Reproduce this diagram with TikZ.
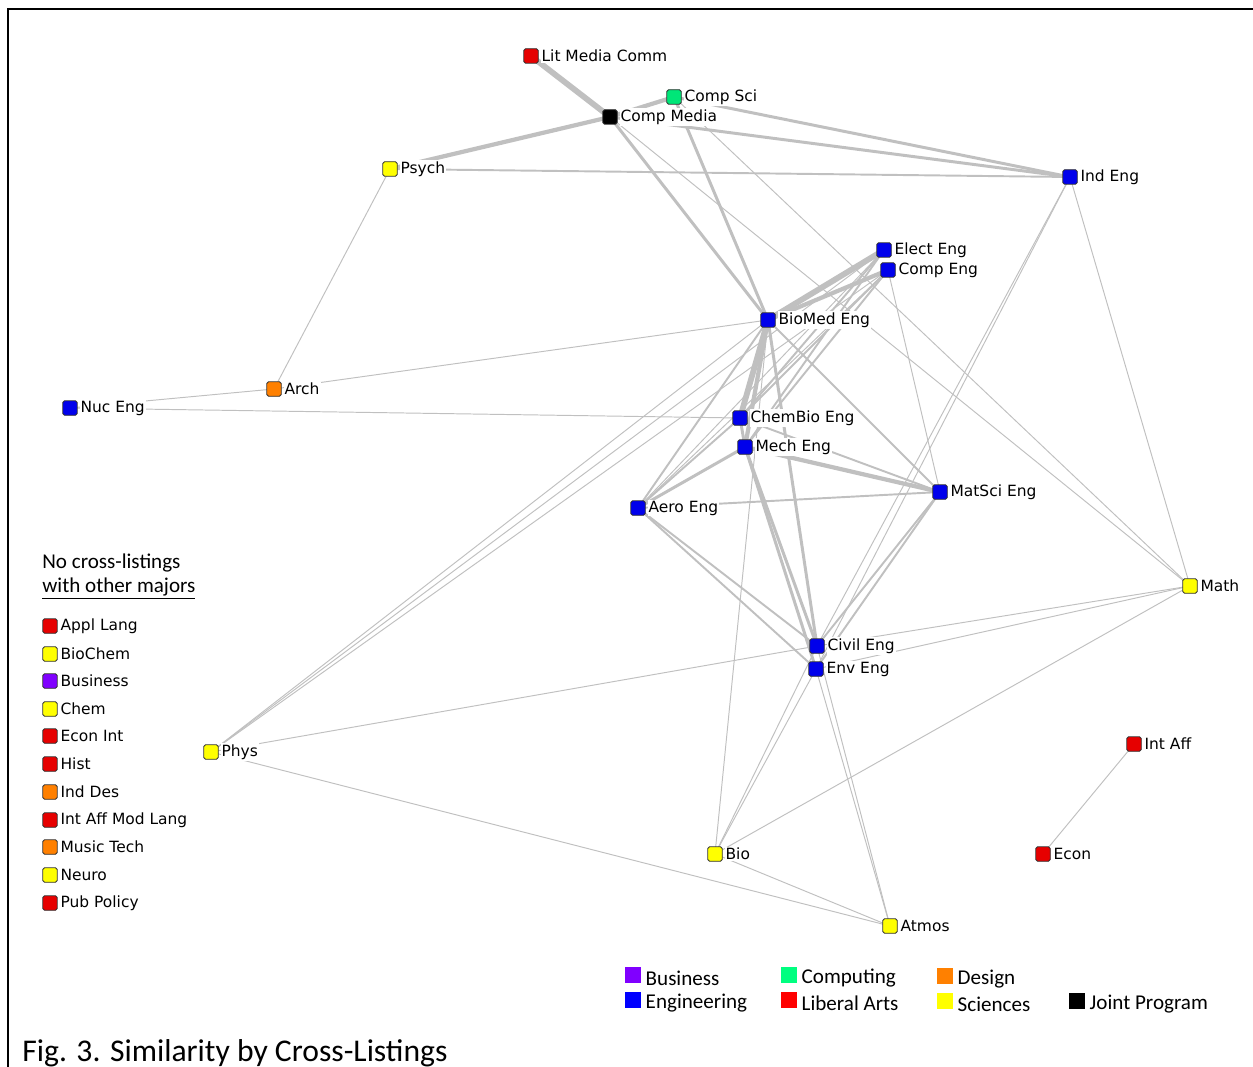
\documentclass[tikz,border=0pt]{standalone}
\usepackage{fontspec}
\setmainfont{DejaVu Sans}
\newfontfamily\calfont{Carlito}
\pgfdeclarelayer{bg}
\pgfsetlayers{bg,main}
\definecolor{cBlue}{RGB}{0,0,235}
\definecolor{cRed}{RGB}{230,0,0}
\definecolor{cYel}{RGB}{255,255,0}
\definecolor{cOra}{RGB}{255,128,0}
\definecolor{cGrn}{RGB}{0,230,120}
\definecolor{cPur}{RGB}{128,0,255}
\definecolor{lBus}{RGB}{128,0,255}
\definecolor{lCom}{RGB}{0,255,128}
\definecolor{lDes}{RGB}{255,128,0}
\definecolor{lEng}{RGB}{0,0,255}
\definecolor{lLib}{RGB}{255,0,0}
\definecolor{lSci}{RGB}{255,255,0}
\definecolor{egray}{RGB}{192,192,192}
\definecolor{sqline}{RGB}{50,50,50}
\begin{document}
\begin{tikzpicture}[x=0.02cm,y=-0.02cm,
  sq/.style={draw=sqline, line width=0.5pt, rounded corners=1pt, minimum size=0.29cm, inner sep=0pt},
  lbl/.style={anchor=west, inner sep=0.6pt, fill=white, xshift=0.03cm, font=\fontsize{8.8}{10}\selectfont},
  lsq/.style={minimum size=0.32cm, inner sep=0pt},
  ltx/.style={anchor=west, inner sep=0pt, xshift=0.08cm, yshift=-0.06cm, font=\calfont\fontsize{12}{14}\selectfont},
  ea/.style={draw=egray, line width=0.55pt},
  eb/.style={draw=egray, line width=1.1pt},
  ec/.style={draw=egray, line width=1.7pt},
  ed/.style={draw=egray, line width=2.4pt},
  ee/.style={draw=egray, line width=3.3pt}
]
\useasboundingbox (0,0) rectangle (1253,1067);
% frame
\draw[line width=1.2pt] (8,1067) -- (8,9) -- (1253,9);

% graph nodes
\node[sq, fill=cRed] (lmc) at (531,56) {};
\node[lbl] (lmcL) at (lmc.east) {Lit Media Comm};
\node[sq, fill=cGrn] (cs) at (674,97) {};
\node[lbl] (csL) at (cs.east) {Comp Sci};
\node[sq, fill=black] (cm) at (610,117) {};
\node[lbl] (cmL) at (cm.east) {Comp Media};
\node[sq, fill=cYel] (psy) at (390,169) {};
\node[lbl] (psyL) at (psy.east) {Psych};
\node[sq, fill=cBlue] (ind) at (1070,177) {};
\node[lbl] (indL) at (ind.east) {Ind Eng};
\node[sq, fill=cBlue] (ele) at (884,250) {};
\node[lbl] (eleL) at (ele.east) {Elect Eng};
\node[sq, fill=cBlue] (cpe) at (888,270) {};
\node[lbl] (cpeL) at (cpe.east) {Comp Eng};
\node[sq, fill=cBlue] (bme) at (768,320) {};
\node[lbl] (bmeL) at (bme.east) {BioMed Eng};
\node[sq, fill=cOra] (arc) at (274,389) {};
\node[lbl] (arcL) at (arc.east) {Arch};
\node[sq, fill=cBlue] (nuc) at (70,408) {};
\node[lbl] (nucL) at (nuc.east) {Nuc Eng};
\node[sq, fill=cBlue] (cbe) at (740,418) {};
\node[lbl] (cbeL) at (cbe.east) {ChemBio Eng};
\node[sq, fill=cBlue] (mec) at (745,447) {};
\node[lbl] (mecL) at (mec.east) {Mech Eng};
\node[sq, fill=cBlue] (mat) at (940,492) {};
\node[lbl] (matL) at (mat.east) {MatSci Eng};
\node[sq, fill=cBlue] (aer) at (638,508) {};
\node[lbl] (aerL) at (aer.east) {Aero Eng};
\node[sq, fill=cYel] (mth) at (1190,586) {};
\node[lbl] (mthL) at (mth.east) {Math};
\node[sq, fill=cBlue] (civ) at (817,646) {};
\node[lbl] (civL) at (civ.east) {Civil Eng};
\node[sq, fill=cBlue] (env) at (816,669) {};
\node[lbl] (envL) at (env.east) {Env Eng};
\node[sq, fill=cYel] (phy) at (211,752) {};
\node[lbl] (phyL) at (phy.east) {Phys};
\node[sq, fill=cRed] (iaf) at (1134,744) {};
\node[lbl] (iafL) at (iaf.east) {Int Aff};
\node[sq, fill=cYel] (bio) at (715,854) {};
\node[lbl] (bioL) at (bio.east) {Bio};
\node[sq, fill=cRed] (eco) at (1043,854) {};
\node[lbl] (ecoL) at (eco.east) {Econ};
\node[sq, fill=cYel] (atm) at (890,926) {};
\node[lbl] (atmL) at (atm.east) {Atmos};

% edges
\begin{pgfonlayer}{bg}
\draw[ee] (lmc.center) -- (cm.center);
\draw[ed] (cs.center) -- (cm.center);
\draw[ed] (cm.center) -- (psy.center);
\draw[ec] (cm.center) -- (ind.center);
\draw[ec] (cs.center) -- (ind.center);
\draw[eb] (psy.center) -- (ind.center);
\draw[ec] (cm.center) -- (bme.center);
\draw[ec] (cs.center) -- (bme.center);
\draw[ea] (cm.center) -- (mth.center);
\draw[ea] (cs.center) -- (mth.center);
\draw[ea] (ind.center) -- (mth.center);
\draw[ea] (ind.center) -- (civ.center);
\draw[ea] (ind.center) -- (env.center);
\draw[ea] (psy.center) -- (arc.center);
\draw[ea] (arc.center) -- (nuc.center);
\draw[ea] (arc.center) -- (bme.center);
\draw[ea] (nuc.center) -- (cbe.center);
\draw[ee] (ele.center) -- (bme.center);
\draw[ed] (cpe.center) -- (bme.center);
\draw[eb] (ele.center) -- (cbe.center);
\draw[eb] (cpe.center) -- (cbe.center);
\draw[eb] (ele.center) -- (mec.center);
\draw[eb] (cpe.center) -- (mec.center);
\draw[ea] (ele.center) -- (aer.center);
\draw[ea] (cpe.center) -- (aer.center);
\draw[ea] (cpe.center) -- (mat.center);
\draw[ee] (bme.center) -- (cbe.center);
\draw[ed] (bme.center) -- (mec.center);
\draw[eb] (bme.center) -- (aer.center);
\draw[ec] (bme.center) -- (civ.center);
\draw[ec] (mec.center) -- (civ.center);
\draw[ec] (mec.center) -- (env.center);
\draw[eb] (bme.center) -- (mat.center);
\draw[ea] (bme.center) -- (bio.center);
\draw[ea] (bme.center) -- (phy.center);
\draw[ea] (ele.center) -- (phy.center);
\draw[ea] (cpe.center) -- (phy.center);
\draw[ec] (cbe.center) -- (mec.center);
\draw[eb] (cbe.center) -- (aer.center);
\draw[ec] (mec.center) -- (aer.center);
\draw[ed] (mec.center) -- (mat.center);
\draw[eb] (cbe.center) -- (mat.center);
\draw[eb] (aer.center) -- (mat.center);
\draw[eb] (aer.center) -- (civ.center);
\draw[eb] (aer.center) -- (env.center);
\draw[eb] (mat.center) -- (civ.center);
\draw[eb] (mat.center) -- (env.center);
\draw[ea] (civ.center) -- (mth.center);
\draw[ea] (env.center) -- (mth.center);
\draw[ea] (phy.center) -- (civ.center);
\draw[ea] (phy.center) -- (atm.center);
\draw[ea] (bio.center) -- (atm.center);
\draw[ea] (bio.center) -- (civ.center);
\draw[ea] (bio.center) -- (env.center);
\draw[ea] (bio.center) -- (mth.center);
\draw[ea] (atm.center) -- (civ.center);
\draw[ea] (atm.center) -- (env.center);
\draw[ea] (iaf.center) -- (eco.center);
\end{pgfonlayer}

% list of unconnected majors
\node[anchor=west, inner sep=0pt, font=\calfont\fontsize{12}{14}\selectfont] (hd1) at (42,563) {No cross-listings};
\node[anchor=west, inner sep=0pt, font=\calfont\fontsize{12}{14}\selectfont] (hd2) at (42,589) {\underline{with other majors}};
\node[sq, fill=cRed] (u1) at (50,626) {};  \node[lbl] (u1L) at (u1.east) {Appl Lang};
\node[sq, fill=cYel] (u2) at (50,654) {};  \node[lbl] (u2L) at (u2.east) {BioChem};
\node[sq, fill=cPur] (u3) at (50,681) {};  \node[lbl] (u3L) at (u3.east) {Business};
\node[sq, fill=cYel] (u4) at (50,709) {};  \node[lbl] (u4L) at (u4.east) {Chem};
\node[sq, fill=cRed] (u5) at (50,736) {};  \node[lbl] (u5L) at (u5.east) {Econ Int};
\node[sq, fill=cRed] (u6) at (50,764) {};  \node[lbl] (u6L) at (u6.east) {Hist};
\node[sq, fill=cOra] (u7) at (50,792) {};  \node[lbl] (u7L) at (u7.east) {Ind Des};
\node[sq, fill=cRed] (u8) at (50,820) {};  \node[lbl] (u8L) at (u8.east) {Int Aff Mod Lang};
\node[sq, fill=cOra] (u9) at (50,847) {};  \node[lbl] (u9L) at (u9.east) {Music Tech};
\node[sq, fill=cYel] (u10) at (50,875) {}; \node[lbl] (u10L) at (u10.east) {Neuro};
\node[sq, fill=cRed] (u11) at (50,903) {}; \node[lbl] (u11L) at (u11.east) {Pub Policy};

% colour legend
\node[lsq, fill=lBus] (k1) at (633,975) {};  \node[ltx] (k1L) at (k1.east) {Business};
\node[lsq, fill=lCom] (k2) at (789,975) {};  \node[ltx] (k2L) at (k2.east) {Computing};
\node[lsq, fill=lDes] (k3) at (945,976) {};  \node[ltx] (k3L) at (k3.east) {Design};
\node[lsq, fill=lEng] (k4) at (633,1000) {}; \node[ltx] (k4L) at (k4.east) {Engineering};
\node[lsq, fill=lLib] (k5) at (789,1000) {}; \node[ltx] (k5L) at (k5.east) {Liberal Arts};
\node[lsq, fill=lSci] (k6) at (945,1001) {}; \node[ltx] (k6L) at (k6.east) {Sciences};
\node[lsq, fill=black] (k7) at (1077,1001) {}; \node[ltx] (k7L) at (k7.east) {Joint Program};

% caption
\node[anchor=base west, inner sep=0pt, font=\calfont\fontsize{18}{20}\selectfont] (cap) at (22,1061) {Fig. 3. Similarity by Cross-Listings};
\end{tikzpicture}
\end{document}
